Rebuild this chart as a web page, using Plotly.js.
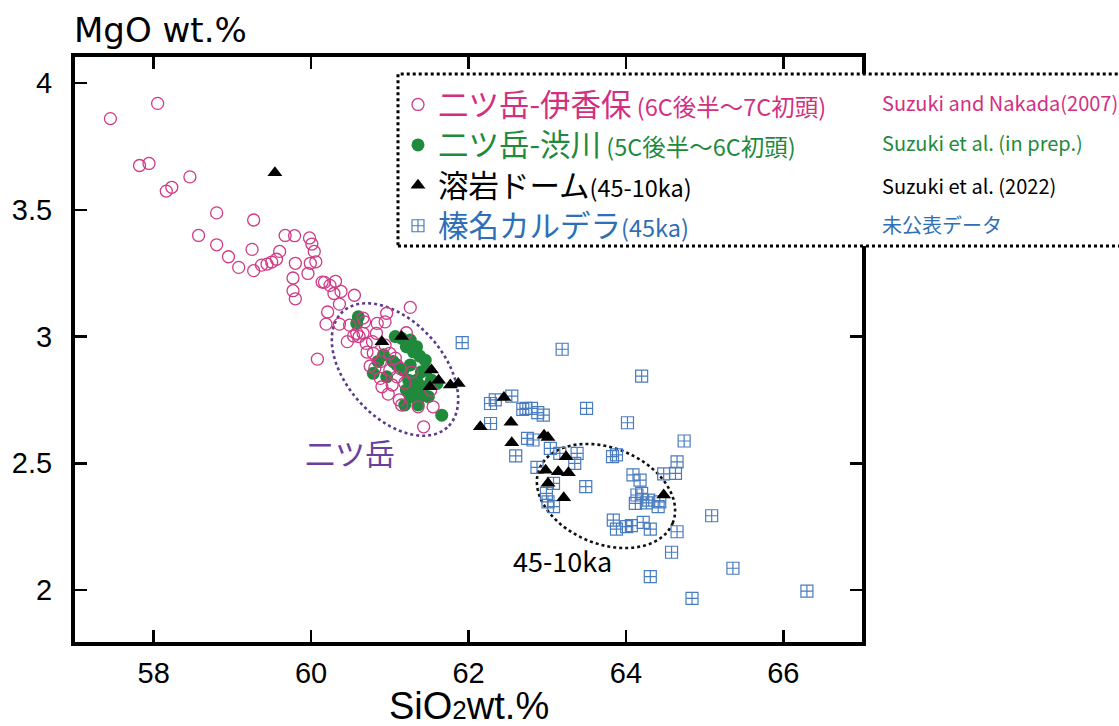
<!DOCTYPE html>
<html>
<head>
<meta charset="utf-8">
<script src="https://cdn.plot.ly/plotly-3.0.1.min.js"></script>
<style>html,body{margin:0;padding:0;background:#fff;}</style>
</head>
<body>
<div id="chart" style="width:1119px;height:726px;"></div>
<script>
// ---- 二ツ岳-伊香保 (SiO2, MgO wt.%) ----
const ikahoSiO2 = [57.45,58.05,57.82,57.94,58.46,58.16,58.23,58.80,59.27,58.57,58.80,59.25,58.95,59.08,59.27,59.37,59.44,59.50,59.56,59.60,
  59.67,59.79,59.80,59.98,60.01,60.04,60.06,59.99,59.96,59.77,59.77,59.80,60.14,60.17,60.31,60.24,60.29,60.38,60.55,60.36,
  60.21,60.19,60.36,60.08,61.26,60.96,60.94,60.84,60.68,60.58,60.54,60.61,60.66,60.46,60.70,60.78,60.83,60.79,60.88,60.75,
  61.00,61.09,61.13,60.88,60.90,61.12,61.15,61.36,61.55,61.43,61.21,61.00,61.07,60.94,60.71,61.03,61.19,61.52,60.66,60.49,
  61.28,60.98,60.81];
const ikahoMgO = [3.86,3.92,3.675,3.683,3.63,3.574,3.589,3.488,3.46,3.399,3.362,3.344,3.315,3.273,3.26,3.282,3.286,3.294,3.305,3.336,
  3.399,3.398,3.289,3.389,3.365,3.336,3.295,3.289,3.249,3.231,3.181,3.149,3.215,3.214,3.218,3.202,3.17,3.178,3.163,3.128,
  3.097,3.049,3.049,2.911,3.115,3.092,3.058,3.052,3.058,3.013,3.002,3.0,3.013,2.98,2.973,2.98,3.013,2.934,2.901,2.884,
  2.868,2.841,2.875,2.835,2.802,2.75,2.73,2.723,2.723,2.644,3.015,2.934,2.915,2.966,2.939,2.809,2.817,2.789,3.073,3.045,
  2.86,2.773,2.876];

// ---- 二ツ岳-渋川 ----
const shibukawaSiO2 = [60.60,60.58,61.15,61.07,61.26,61.21,61.34,61.30,61.45,61.38,61.47,61.40,61.17,61.26,61.09,60.96,60.79,61.24,61.34,61.53,
  61.60,61.30,61.21,61.43,61.38,61.26,61.49,61.19,61.36,61.66,61.04,60.92,60.85];
const shibukawaMgO = [3.078,3.052,2.993,3.0,2.986,2.96,2.96,2.94,2.907,2.923,2.868,2.861,2.868,2.888,2.888,2.841,2.855,2.828,2.828,2.828,
  2.815,2.802,2.789,2.802,2.763,2.763,2.763,2.73,2.73,2.69,2.902,2.928,2.902];

// ---- 溶岩ドーム (45-10ka) ----
const domeSiO2 = [59.54,60.90,61.15,61.53,61.62,61.51,61.77,61.87,62.15,62.45,62.54,62.55,62.96,63.01,62.98,63.14,63.27,63.01,63.21,63.24,64.48];
const domeMgO  = [3.646,2.98,3.0,2.868,2.828,2.802,2.809,2.815,2.644,2.76,2.662,2.581,2.611,2.602,2.473,2.467,2.463,2.421,2.364,2.526,2.375];

// ---- 榛名カルデラ (45ka) ----
const harunaSiO2 = [61.92,63.19,64.20,63.50,64.02,64.74,64.65,64.63,64.48,65.09,64.65,64.58,65.36,64.31,64.84,66.30,62.28,62.55,62.69,62.80,
  62.95,62.28,62.75,62.82,62.60,62.87,63.04,63.16,63.38,63.35,63.08,62.99,63.01,63.08,63.49,63.83,63.88,64.09,64.18,64.20,
  64.29,64.12,64.41,64.43,63.84,63.88,64.01,64.07,64.22,64.31,62.34,62.73,62.88,64.14,64.26];
const harunaMgO = [2.976,2.95,2.844,2.717,2.66,2.588,2.506,2.46,2.458,2.293,2.23,2.149,2.086,2.053,1.967,1.996,2.736,2.765,2.713,2.717,
  2.69,2.657,2.598,2.592,2.529,2.484,2.559,2.539,2.539,2.5,2.421,2.381,2.348,2.329,2.408,2.526,2.533,2.454,2.434,2.381,
  2.355,2.342,2.329,2.348,2.276,2.24,2.25,2.254,2.267,2.24,2.75,2.717,2.70,2.375,2.344];

// ---- axes ----
const xRange = [57, 67];
const yRange = [1.795, 4.103];
const xTickVals = [58, 60, 62, 64, 66];
const yTickVals = [2, 2.5, 3, 3.5, 4];
const yTickText = ['2', '2.5', '3', '3.5', '4'];

// ---- legend text ----
const seriesNames   = ['二ツ岳-伊香保', '二ツ岳-渋川', '溶岩ドーム', '榛名カルデラ'];
const seriesNotes   = [' (6C後半～7C初頭)', ' (5C後半～6C初頭)', '(45-10ka)', '(45ka)'];
const seriesSources = ['Suzuki and Nakada(2007)', 'Suzuki et al. (in prep.)', 'Suzuki et al. (2022)', '未公表データ'];
const seriesColors  = ['#d2307f', '#1f8a3b', '#000000', '#2f6fb5'];

const M = {l: 75, r: 257, t: 57, b: 84};
const W = 1119, H = 726;
const PW = W - M.l - M.r, PH = H - M.t - M.b;

// dotted ellipse outline in data units, sized in screen pixels
function ellipsePath(cx, cy, a, b, deg) {
  const kx = PW / (xRange[1] - xRange[0]);
  const ky = PH / (yRange[1] - yRange[0]);
  const th = deg * Math.PI / 180;
  let d = '';
  for (let i = 0; i <= 90; i++) {
    const t = i / 90 * 2 * Math.PI;
    const dx = a * Math.cos(t) * Math.cos(th) - b * Math.sin(t) * Math.sin(th);
    const dy = a * Math.cos(t) * Math.sin(th) + b * Math.sin(t) * Math.cos(th);
    d += (i ? 'L' : 'M') + (cx + dx / kx).toFixed(4) + ',' + (cy - dy / ky).toFixed(4);
  }
  return d + 'Z';
}

function legendLabel(i) {
  return '<span style="color:' + seriesColors[i] + '"><span style="font-size:30.5px">' + seriesNames[i] +
         '</span><span style="font-size:23.5px">' + seriesNotes[i] + '</span></span>';
}

const traces = [
  {x: harunaSiO2, y: harunaMgO, type: 'scatter', mode: 'markers', name: legendLabel(3), legendrank: 4,
   marker: {symbol: 'square-cross-open', size: 12, color: '#4a7cc0', line: {width: 1.2, color: '#4a7cc0'}}},
  {x: shibukawaSiO2, y: shibukawaMgO, type: 'scatter', mode: 'markers', name: legendLabel(1), legendrank: 2,
   marker: {symbol: 'circle', size: 13, color: '#1f8a3b'}},
  {x: ikahoSiO2, y: ikahoMgO, type: 'scatter', mode: 'markers', name: legendLabel(0), legendrank: 1,
   marker: {symbol: 'circle-open', size: 12, color: '#cf3a86', line: {width: 1.3, color: '#cf3a86'}}},
  {x: domeSiO2, y: domeMgO, type: 'scatter', mode: 'markers', name: legendLabel(2), legendrank: 3,
   marker: {symbol: 'triangle-up', size: 13, color: '#000000'}}
];

const rowY = [0.923, 0.853, 0.781, 0.714];
const annotations = seriesSources.map((s, i) => ({
  xref: 'paper', yref: 'paper', x: 1.0229, y: rowY[i], xanchor: 'left', yanchor: 'middle',
  text: s, showarrow: false, font: {family: 'Noto Sans CJK JP', size: 20, color: seriesColors[i]}
}));
annotations.push(
  {xref: 'paper', yref: 'paper', x: -0.004, y: 1.046, xanchor: 'left', yanchor: 'middle', showarrow: false,
   text: 'MgO wt.%', font: {family: 'DejaVu Sans', size: 34, color: '#000'}},
  {xref: 'paper', yref: 'paper', x: 0.5, y: -0.11, xanchor: 'center', yanchor: 'middle', showarrow: false,
   text: 'SiO<span style="font-size:26px">2</span>wt.%', font: {family: 'Liberation Sans', size: 38, color: '#000'}},
  {xref: 'x', yref: 'y', x: 60.49, y: 2.544, showarrow: false, text: '二ツ岳',
   font: {family: 'Noto Sans CJK JP', size: 30, color: '#6a3fa0'}},
  {xref: 'x', yref: 'y', x: 63.19, y: 2.118, showarrow: false, text: '45-10ka',
   font: {family: 'Noto Sans CJK JP', size: 27, color: '#000'}}
);

const shapes = [
  {type: 'path', xref: 'x', yref: 'y', path: ellipsePath(61.066, 2.870, 78, 48, 48), layer: 'below',
   line: {color: '#5b3b93', width: 2.6, dash: 'dot'}},
  {type: 'path', xref: 'x', yref: 'y', path: ellipsePath(63.747, 2.371, 72, 48, 22), layer: 'below',
   line: {color: '#111', width: 2.6, dash: 'dot'}},
  {type: 'rect', xref: 'paper', yref: 'paper', x0: 0.4104, x1: 1.334, y0: 0.677, y1: 0.971, layer: 'above',
   fillcolor: '#ffffff', line: {color: '#000', width: 3, dash: 'dot'}}
];

const tickFont = {family: 'Liberation Sans', size: 29, color: '#000'};
const layout = {
  width: W, height: H, margin: M,
  paper_bgcolor: '#fff', plot_bgcolor: '#fff',
  showlegend: true,
  legend: {x: 0.4104, xanchor: 'left', y: 0.962, yanchor: 'top', bgcolor: 'rgba(0,0,0,0)', borderwidth: 0,
           font: {family: 'Noto Sans CJK JP', size: 28.8, color: '#000'}, traceorder: 'normal', itemclick: false},
  xaxis: {range: xRange, tickmode: 'array', tickvals: xTickVals, ticks: 'inside', ticklen: 12, tickwidth: 2.5,
          tickcolor: '#000', showline: true, linewidth: 4, linecolor: '#000', mirror: 'allticks',
          showgrid: false, zeroline: false, tickfont: tickFont, ticklabelstandoff: 2},
  yaxis: {range: yRange, tickmode: 'array', tickvals: yTickVals, ticktext: yTickText, ticks: 'inside', ticklen: 12,
          tickwidth: 2.5, tickcolor: '#000', showline: true, linewidth: 4, linecolor: '#000', mirror: 'allticks',
          showgrid: false, zeroline: false, tickfont: tickFont, ticklabelstandoff: 13},
  shapes: shapes,
  annotations: annotations
};

Plotly.newPlot('chart', traces, layout, {staticPlot: true, displayModeBar: false});
</script>
</body>
</html>
